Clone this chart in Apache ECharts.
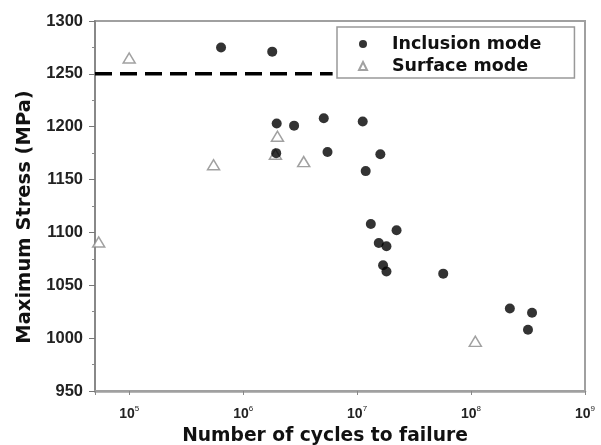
<!DOCTYPE html>
<html>
<head>
<meta charset="utf-8">
<script src="https://cdn.jsdelivr.net/npm/echarts@6/dist/echarts.min.js"></script>
<style>html,body{margin:0;padding:0;background:#fff}#c{width:601px;height:445px}</style>
</head>
<body>
<div id="c"></div>
<script>
// Data
const inclusionCycles = [6.4e5, 1.8e6, 1.97e6, 1.95e6, 2.8e6, 5.1e6, 5.5e6, 1.12e7, 1.19e7, 1.6e7, 1.32e7, 2.22e7, 1.55e7, 1.81e7, 1.69e7, 1.81e7, 5.7e7, 2.19e8, 3.43e8, 3.16e8];
const inclusionStress = [1275, 1271, 1203, 1175, 1201, 1208, 1176, 1205, 1158, 1174, 1108, 1102, 1090, 1087, 1069, 1063, 1061, 1028, 1024, 1008];
const surfaceCycles = [5.4e4, 1.0e5, 5.5e5, 1.92e6, 2.0e6, 3.4e6, 1.09e8];
const surfaceStress = [1091, 1265, 1164, 1174, 1191, 1167, 997];
const limitCycles = [50118.72, 6.1e6];
const limitStress = [1250, 1250];
const seriesNames = ['Inclusion mode', 'Surface mode'];
const xRange = [50118.72, 1e9];
const yRange = [950, 1300];

const zip = (a, b) => a.map((v, i) => [v, b[i]]);
const titleFont = 'DejaVu Sans';
const chart = echarts.init(document.getElementById('c'), null, {renderer: 'canvas'});
chart.setOption({
  animation: false,
  backgroundColor: '#fff',
  grid: {left: 95, right: 16, top: 21, bottom: 54, show: true, borderColor: '#a0a0a0', borderWidth: 2,
    outerBoundsMode: 'none', containLabel: false},
  legend: {
    data: seriesNames,
    orient: 'vertical',
    left: 337, top: 27,
    padding: [8, 33, 3, 21],
    itemGap: 4,
    itemWidth: 8, itemHeight: 8,
    borderColor: '#999', borderWidth: 1.5,
    backgroundColor: '#fff',
    textStyle: {fontFamily: titleFont, fontWeight: 'bold', fontSize: 17.5, color: '#111', lineHeight: 18,
      padding: [0, 0, 0, 20]}
  },
  xAxis: {
    type: 'log', logBase: 10, min: xRange[0], max: xRange[1],
    name: 'Number of cycles to failure', nameLocation: 'middle', nameGap: 36,
    nameTextStyle: {fontFamily: titleFont, fontWeight: 'bold', fontSize: 18.7, color: '#111', padding: [0, 30, 0, 0]},
    axisLine: {lineStyle: {color: '#a0a0a0', width: 2.5}},
    axisTick: {show: true, inside: false, length: 4, lineStyle: {color: '#888', width: 1}},
    splitLine: {show: false},
    axisLabel: {
      margin: 14, color: '#222',
      formatter: function (v) {
        const l = Math.log10(v);
        if (Math.abs(l - Math.round(l)) > 1e-6) return '';
        return '{b|10}{s|' + Math.round(l) + '}';
      },
      rich: {
        b: {fontFamily: 'Liberation Sans', fontWeight: 'bold', fontSize: 14, color: '#222', verticalAlign: 'bottom', lineHeight: 16},
        s: {fontFamily: 'Liberation Sans', fontSize: 8, color: '#222', verticalAlign: 'top', lineHeight: 16}
      }
    }
  },
  yAxis: {
    type: 'value', min: yRange[0], max: yRange[1], interval: 50,
    name: 'Maximum Stress (MPa)', nameLocation: 'middle', nameGap: 54, nameRotate: 90,
    nameTextStyle: {fontFamily: titleFont, fontWeight: 'bold', fontSize: 19.5, color: '#111', padding: [0, 22, 0, 0]},
    axisLine: {show: true, lineStyle: {color: '#888', width: 2}},
    axisTick: {show: true, inside: false, length: 6, lineStyle: {color: '#777', width: 1}},
    minorTick: {show: true, splitNumber: 2, length: 3, lineStyle: {color: '#888', width: 1}},
    splitLine: {show: false},
    axisLabel: {margin: 12, fontFamily: 'Liberation Sans', fontWeight: 'bold', fontSize: 16.5, color: '#222',
      formatter: function (v) { return String(v); }}
  },
  series: [
    {
      name: 'limit', type: 'line', data: zip(limitCycles, limitStress), symbol: 'none',
      lineStyle: {color: '#000', width: 3.5, type: [17, 8]}, silent: true, z: 1
    },
    {
      name: seriesNames[1], type: 'scatter', data: zip(surfaceCycles, surfaceStress),
      symbol: 'triangle', symbolSize: [12, 10],
      itemStyle: {color: '#fff', borderColor: '#8a8a8a', borderWidth: 1.5}, z: 2
    },
    {
      name: seriesNames[0], type: 'scatter', data: zip(inclusionCycles, inclusionStress),
      symbol: 'circle', symbolSize: 10,
      itemStyle: {color: '#000'}, z: 3
    }
  ]
});
</script>
</body>
</html>
